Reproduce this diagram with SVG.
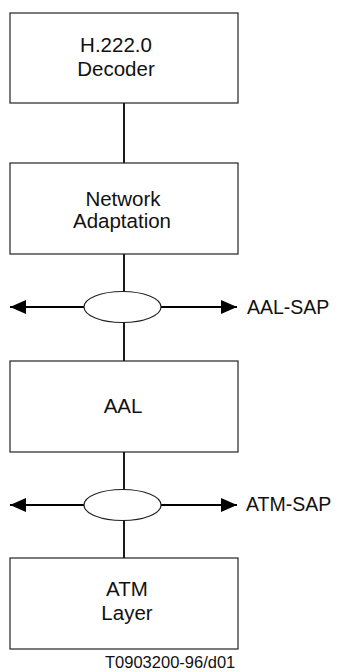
<svg xmlns="http://www.w3.org/2000/svg" width="341" height="672" viewBox="0 0 341 672">
<style>
.box{fill:#fff;stroke:#222;stroke-width:1.2}
.t{font-family:"Liberation Sans",Arial,sans-serif;font-size:20.5px;fill:#111;text-anchor:middle}
.lbl{font-family:"Liberation Sans",Arial,sans-serif;font-size:19.5px;fill:#111}
.ft{font-family:"Liberation Sans",Arial,sans-serif;font-size:16.5px;fill:#111}
.ln{stroke:#000;stroke-width:1.8;fill:none}
.sap{fill:#fff;stroke:#222;stroke-width:1.2}
</style>
<defs>
<marker id="ah" markerWidth="16" markerHeight="14" refX="16" refY="7" orient="auto" markerUnits="userSpaceOnUse">
<path d="M0,0 L16,7 L0,14 Z" fill="#000"/>
</marker>
</defs>
<g id="connectors">
<line class="ln" x1="124" y1="103" x2="124" y2="163"/>
<line class="ln" x1="124" y1="254" x2="124" y2="292"/>
<line class="ln" x1="124" y1="322" x2="124" y2="361"/>
<line class="ln" x1="124" y1="452" x2="124" y2="490"/>
<line class="ln" x1="124" y1="520" x2="124" y2="558"/>
<line class="ln" x1="84" y1="307" x2="10" y2="307" marker-end="url(#ah)"/>
<line class="ln" x1="161" y1="307" x2="237" y2="307" marker-end="url(#ah)"/>
<line class="ln" x1="84" y1="505" x2="10" y2="505" marker-end="url(#ah)"/>
<line class="ln" x1="161" y1="505" x2="237" y2="505" marker-end="url(#ah)"/>
</g>
<g id="h2220">
<rect class="box" x="10" y="13" width="228" height="90"/>
<text class="t" x="116" y="52">H.222.0</text>
<text class="t" x="116" y="76">Decoder</text>
</g>
<g id="netadapt">
<rect class="box" x="10" y="163" width="228" height="91"/>
<text class="t" x="123" y="206">Network</text>
<text class="t" x="122" y="228">Adaptation</text>
</g>
<g id="aalsap">
<ellipse class="sap" cx="122.5" cy="307" rx="38.5" ry="15.5"/>
<text class="lbl" x="247" y="314">AAL-SAP</text>
</g>
<g id="aal">
<rect class="box" x="10" y="361" width="228" height="91"/>
<text class="t" x="123" y="413">AAL</text>
</g>
<g id="atmsap">
<ellipse class="sap" cx="122.5" cy="505" rx="38.5" ry="15.5"/>
<text class="lbl" x="246" y="511">ATM-SAP</text>
</g>
<g id="atmlayer">
<rect class="box" x="10" y="558" width="228" height="91"/>
<text class="t" x="127" y="596">ATM</text>
<text class="t" x="127" y="620">Layer</text>
</g>
<text class="ft" x="105" y="668">T0903200-96/d01</text>
</svg>
